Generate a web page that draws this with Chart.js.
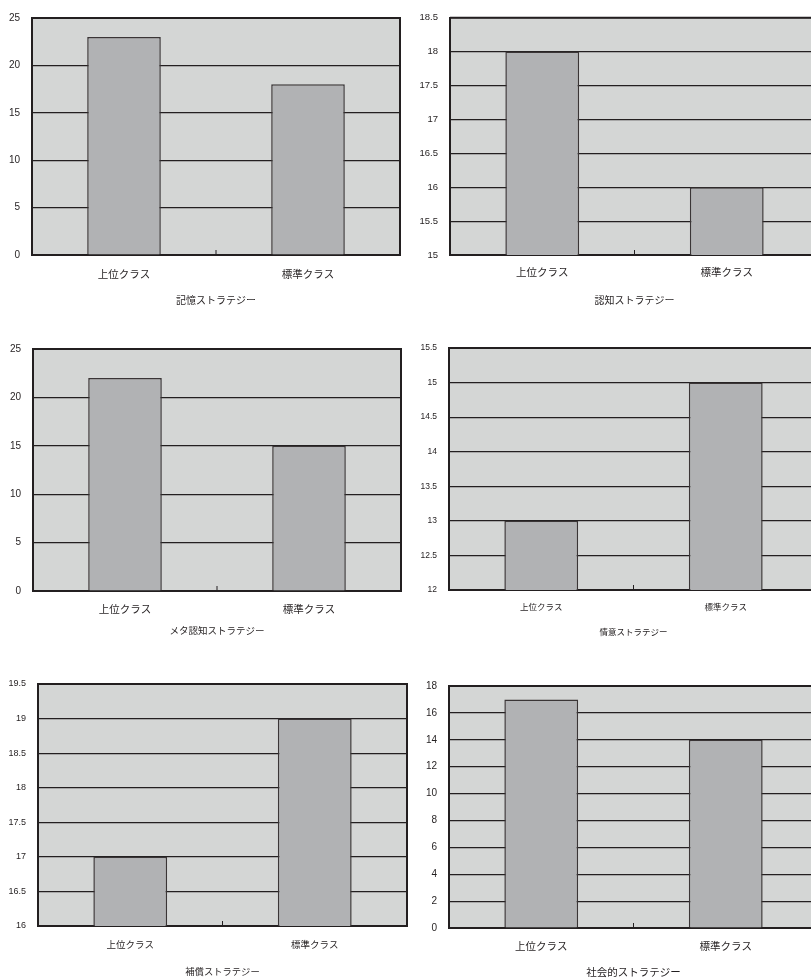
<!DOCTYPE html>
<html>
<head>
<meta charset="utf-8">
<script src="https://cdn.jsdelivr.net/npm/chart.js@4.4.0/dist/chart.umd.min.js"></script>
<style>
  html, body { margin: 0; padding: 0; width: 811px; height: 979px; overflow: hidden; background: #fff; }
  canvas { position: absolute; }
</style>
</head>
<body>
<canvas id="c0"></canvas>
<canvas id="c1"></canvas>
<canvas id="c2"></canvas>
<canvas id="c3"></canvas>
<canvas id="c4"></canvas>
<canvas id="c5"></canvas>
<script>
// datos
const categories = ['上位クラス', '標準クラス'];
const strategyTitles = ['記憶ストラテジー', '認知ストラテジー', 'メタ認知ストラテジー', '情意ストラテジー', '補償ストラテジー', '社会的ストラテジー'];
const memoryValues = [23, 18];
const cognitiveValues = [18, 16];
const metacognitiveValues = [22, 15];
const affectiveValues = [13, 15];
const compensationValues = [17, 19];
const socialValues = [17, 14];
const axisMin = [0, 15, 0, 12, 16, 0];
const axisMax = [25, 18.5, 25, 15.5, 19.5, 18];
const axisStep = [5, 0.5, 5, 0.5, 0.5, 2];

const seriesList = [memoryValues, cognitiveValues, metacognitiveValues, affectiveValues, compensationValues, socialValues];

// posiciones: caja del canvas, area de trazado, centro de etiquetas y titulo, tamaños de fuente
const layouts = [
  { box: [0, 0, 405, 325],   plot: [32, 13, 400, 255],  labelY: 275,   titleY: 301.7, fonts: [10, 10.5, 10] },
  { box: [405, 0, 420, 325], plot: [450, 12, 819, 255], labelY: 273.3, titleY: 301.7, fonts: [9.5, 10.5, 10] },
  { box: [0, 330, 405, 325], plot: [33, 349, 401, 591], labelY: 610,   titleY: 631.7, fonts: [10, 10.5, 9.5] },
  { box: [405, 330, 420, 325], plot: [449, 348, 818, 590], labelY: 608, titleY: 632.7, fonts: [8.5, 8.5, 8.5] },
  { box: [0, 660, 410, 319], plot: [38, 684, 407, 926], labelY: 945,   titleY: 972,   fonts: [9, 9.5, 9.3] },
  { box: [405, 660, 420, 319], plot: [449, 686, 818, 928], labelY: 947.3, titleY: 973.3, fonts: [10, 10.5, 10.5] },
];

const INK = '#231f20';
const FONT = "'Liberation Sans', 'Noto Sans CJK JP', sans-serif";

const plotFrame = {
  id: 'plotFrame',
  beforeDraw(chart) {
    const { ctx, chartArea: a } = chart;
    ctx.save();
    ctx.fillStyle = '#d4d6d5';
    ctx.fillRect(a.left, a.top, a.right - a.left, a.bottom - a.top);
    ctx.restore();
  },
  afterDraw(chart) {
    const { ctx, chartArea: a, scales } = chart;
    ctx.save();
    ctx.strokeStyle = INK;
    ctx.lineWidth = 2;
    ctx.beginPath();
    ctx.moveTo(a.left, a.top);
    ctx.lineTo(a.right, a.top);
    ctx.lineTo(a.right, a.bottom);
    ctx.stroke();
    // marca pequeña entre las dos categorias
    const mid = scales.x.getPixelForValue(0.5);
    ctx.lineWidth = 1;
    ctx.beginPath();
    ctx.moveTo(mid, a.bottom);
    ctx.lineTo(mid, a.bottom - 5);
    ctx.stroke();
    ctx.restore();
  }
};

function crearGrafico(i) {
  const L = layouts[i];
  const [bx, by, bw, bh] = L.box;
  const [pl, pt, pr, pb] = L.plot;
  const [tickSize, labelSize, titleSize] = L.fonts;
  const canvas = document.getElementById('c' + i);
  canvas.width = bw;
  canvas.height = bh;
  canvas.style.left = bx + 'px';
  canvas.style.top = by + 'px';

  const xHeight = by + bh - pb;
  const labelPad = L.labelY - pb - labelSize * 1.2 / 2;
  const titlePad = by + bh - L.titleY - titleSize * 1.2 / 2;

  new Chart(canvas.getContext('2d'), {
    type: 'bar',
    data: {
      labels: categories,
      datasets: [{
        data: seriesList[i],
        backgroundColor: '#b1b2b4',
        borderColor: '#3a3536',
        borderWidth: 1.5,
        barPercentage: 0.4,
        categoryPercentage: 1
      }]
    },
    options: {
      responsive: false,
      animation: false,
      events: [],
      layout: { padding: { top: pt - by, right: bx + bw - pr, left: 0, bottom: 0 } },
      plugins: { legend: { display: false }, tooltip: { enabled: false } },
      scales: {
        x: {
          grid: { display: false, drawTicks: false },
          border: { display: true, color: INK, width: 2 },
          ticks: { color: INK, padding: labelPad, font: { family: FONT, size: labelSize } },
          title: {
            display: true,
            text: strategyTitles[i],
            color: INK,
            padding: { top: 0, bottom: titlePad },
            font: { family: FONT, size: titleSize }
          },
          afterFit: s => { s.height = xHeight; }
        },
        y: {
          min: axisMin[i],
          max: axisMax[i],
          grid: { color: INK, lineWidth: 1.2, drawTicks: false },
          border: { display: true, color: INK, width: 2 },
          ticks: {
            stepSize: axisStep[i],
            color: INK,
            padding: 12,
            font: { family: FONT, size: tickSize },
            callback: v => String(v)
          },
          afterFit: s => { s.width = pl - bx; }
        }
      }
    },
    plugins: [plotFrame]
  });
}

for (let i = 0; i < layouts.length; i++) crearGrafico(i);
</script>
</body>
</html>
